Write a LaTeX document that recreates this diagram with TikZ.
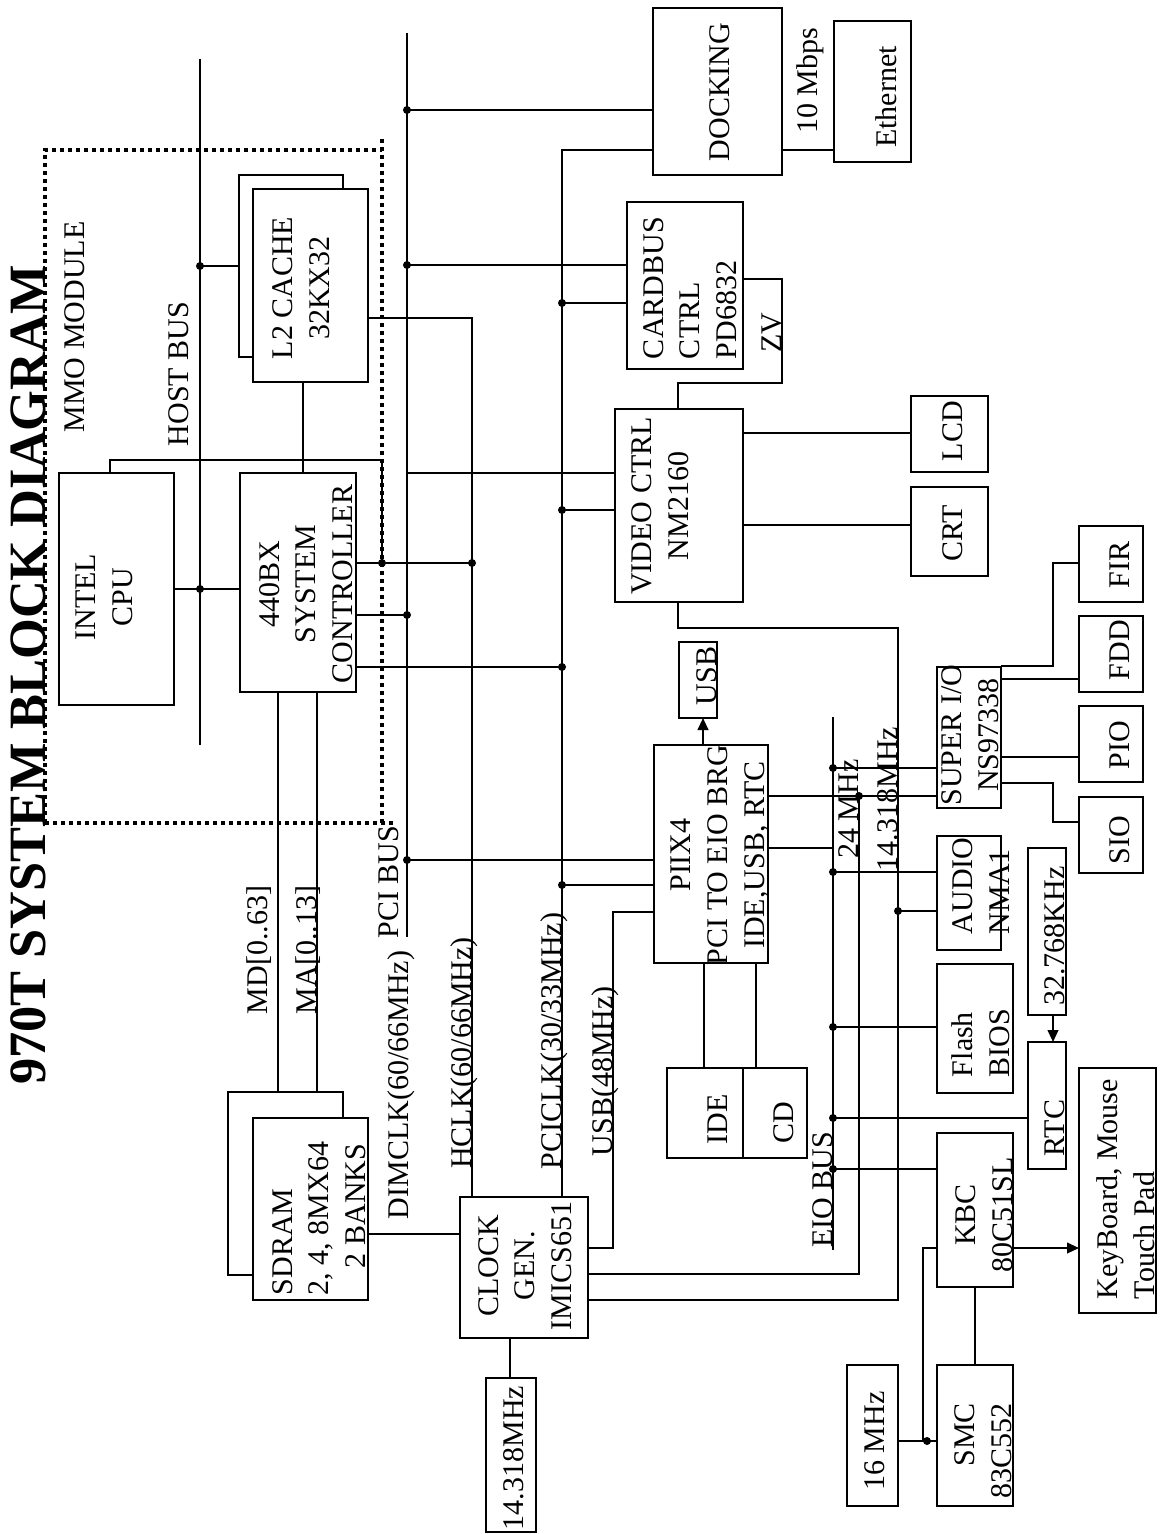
\documentclass[tikz,border=0pt]{standalone}
\usepackage{fontspec}
\setmainfont{Liberation Serif}
\usetikzlibrary{arrows.meta}
\newcommand\fsz{\fontsize{22.5pt}{27.5pt}\selectfont}
\newcommand\mkbox[6][]{\node[bx,#1, minimum width={(#5-#3)*0.75pt}, minimum height={(#6-#4)*0.75pt}] (#2) at ({(#3+#5)/2},{(#4+#6)/2}) {};}
\begin{document}
\begin{tikzpicture}[x=0.75pt,y=-0.75pt,
  line width=1.5pt,
  bx/.style={draw, line width=1.6pt, inner sep=0pt, outer sep=0pt},
  lab/.style={rotate=90, inner sep=0pt, font=\fsz},
  jn/.style={circle, fill, inner sep=0pt, minimum size=6pt},
  arr/.style={-{Triangle[length=9pt,width=8pt]}},
  mmo/.style={line width=3pt, dash pattern=on 3pt off 3pt}]
\useasboundingbox (0,0) rectangle (1163,1534);

% ---------- boxes ----------
\mkbox{cpu}{59}{473}{174}{705}
\mkbox{l2back}{239}{175}{343}{357}
\mkbox[fill=white]{l2}{253}{189}{368}{382}
\mkbox{ctrl}{240}{473}{356}{692}
\mkbox{sdback}{228}{1092}{343}{1275}
\mkbox[fill=white]{sdram}{253}{1118}{368}{1300}
\mkbox{clk}{460}{1197}{588}{1338}
\mkbox{osc}{486}{1378}{536}{1532}
\mkbox{dock}{653}{8}{782}{175}
\mkbox{eth}{834}{21}{911}{162}
\mkbox{cb}{627}{202}{743}{369}
\mkbox{vid}{615}{409}{743}{602}
\mkbox{lcd}{911}{396}{988}{472}
\mkbox{crt}{911}{487}{988}{576}
\mkbox{usb}{679}{642}{717}{718}
\mkbox{piix}{654}{745}{768}{963}
\mkbox{ide}{667}{1068}{743}{1158}
\mkbox{cd}{743}{1068}{807}{1158}
\mkbox{superio}{937}{667}{1001}{808}
\mkbox{fir}{1079}{526}{1143}{602}
\mkbox{fdd}{1079}{616}{1143}{692}
\mkbox{pio}{1079}{706}{1143}{782}
\mkbox{siob}{1079}{797}{1143}{873}
\mkbox{audio}{937}{836}{1001}{950}
\mkbox{bios}{937}{964}{1013}{1093}
\mkbox{xtal}{1028}{848}{1066}{1015}
\mkbox{rtc}{1028}{1042}{1066}{1169}
\mkbox{kbc}{937}{1133}{1013}{1287}
\mkbox{kbd}{1079}{1068}{1156}{1313}
\mkbox{smc}{937}{1365}{1013}{1506}
\mkbox{mhz}{847}{1365}{898}{1506}

% ---------- bus ends and junctions ----------
\coordinate (hbT) at (200,59);  \coordinate (hbB) at (200,745);
\coordinate (pciT) at (407,33); \coordinate (pciB) at (407,937);
\coordinate (eioT) at (833,717); \coordinate (eioB) at (833,1250);
\coordinate (j1) at (200,266);  \coordinate (j2) at (200,589);
\coordinate (j3) at (382,563);  \coordinate (j4) at (472,563);
\coordinate (j5) at (407,615);  \coordinate (j6) at (562,667);
\coordinate (j7) at (407,110);  \coordinate (j8) at (407,265);
\coordinate (j9) at (562,303);  \coordinate (j10) at (562,510);
\coordinate (j11) at (407,860); \coordinate (j12) at (562,885);
\coordinate (j13) at (859,796); \coordinate (j14) at (833,768);
\coordinate (j15) at (898,911); \coordinate (j16) at (833,872);
\coordinate (j17) at (833,1027); \coordinate (j18) at (833,1118);
\coordinate (j19) at (833,1169); \coordinate (j20) at (927,1441);

% ---------- MMO module border ----------
\draw[mmo] (45,823) -- (45,150) -- (382,150);
\draw[mmo] (382,139) -- (382,823);
\draw[mmo] (45,823) -- (393,823);

% ---------- buses ----------
\draw (hbT) -- (hbB);
\draw (pciT) -- (pciB);
\draw (eioT) -- (eioB);

% ---------- connectors ----------
\draw (l2back.west |- j1) -- (j1);
\draw (cpu.east |- j2) -- (ctrl.west |- j2);
\draw (110,0 |- cpu.north) -- (110,460) -| (j3);
\draw (ctrl.east |- j3) -- (j4);
\draw (303,0 |- l2.south) -- (303,0 |- ctrl.north);
\draw (l2.east |- 0,318) -| (472,0 |- clk.north);
\draw (ctrl.east |- j5) -- (j5);
\draw (ctrl.east |- j6) -- (j6);
\draw (278,0 |- ctrl.south) -- (278,0 |- sdback.north);
\draw (317,0 |- ctrl.south) -- (317,0 |- sdback.north);
\draw (sdram.east |- 0,1234) -- (clk.west |- 0,1234);
\draw (j7) -- (dock.west |- j7);
\draw (dock.west |- 0,150) -| (562,0 |- clk.north);
\draw (j8) -- (cb.west |- j8);
\draw (j9) -- (cb.west |- j9);
\draw (407,473) -- (vid.west |- 0,473);
\draw (j10) -- (vid.west |- j10);
\draw (j11) -- (piix.west |- j11);
\draw (j12) -- (piix.west |- j12);
\draw (piix.west |- 0,912) -| (613,1248) -- (clk.east |- 0,1248);
\draw[arr] (703,0 |- piix.north) -- (703,0 |- usb.south);
\draw (704,0 |- piix.south) -- (704,0 |- ide.north);
\draw (756,0 |- piix.south) -- (756,0 |- cd.north);
\draw (piix.east |- j13) -- (superio.west |- j13);
\draw (piix.east |- 0,848) -- (eioT |- 0,848);
\draw (j14) -- (superio.west |- j14);
\draw (j13) -- (859,1274) -- (clk.east |- 0,1274);
\draw (678,0 |- vid.south) |- (898,628) -- (898,1300) -- (clk.east |- 0,1300);
\draw (j15) -- (audio.west |- j15);
\draw (j16) -- (audio.west |- j16);
\draw (j17) -- (bios.west |- j17);
\draw (j18) -- (rtc.west |- j18);
\draw (j19) -- (kbc.west |- j19);
\draw[arr] (1053,0 |- xtal.south) -- (1053,0 |- rtc.north);
\draw[arr] (kbc.east |- 0,1248) -- (kbd.west |- 0,1248);
\draw (975,0 |- kbc.south) -- (975,0 |- smc.north);
\draw (mhz.east |- j20) -- (smc.west |- j20);
\draw (923,1441) |- (kbc.west |- 0,1248);
\draw (vid.east |- 0,433) -- (lcd.west |- 0,433);
\draw (vid.east |- 0,525) -- (crt.west |- 0,525);
\draw (cb.east |- 0,279) -| (782,383) -| (678,0 |- vid.north);
\draw (dock.east |- 0,150) -- (eth.west |- 0,150);
\draw (superio.east |- 0,666) -| (1053,563) -- (fir.west |- 0,563);
\draw (superio.east |- 0,679) -- (fdd.west |- 0,679);
\draw (superio.east |- 0,757) -- (pio.west |- 0,757);
\draw (superio.east |- 0,783) -| (1053,822) -- (siob.west |- 0,822);
\draw (510,0 |- clk.south) -- (510,0 |- osc.north);

% ---------- junction dots ----------
\foreach \p in {j1,j2,j3,j4,j5,j6,j7,j8,j9,j10,j11,j12,j13,j14,j15,j16,j17,j18,j19,j20}
  \node[jn] (d\p) at (\p) {};

% ---------- free labels ----------
\node[lab, anchor=base, font=\fontsize{39.3pt}{40pt}\selectfont\bfseries] (title) at (45,675) {970T SYSTEM BLOCK DIAGRAM};
\node[lab, anchor=base] (tMMO) at (84,327) {MMO MODULE};
\node[lab, anchor=base] (tHB) at (188,374) {HOST BUS};
\node[lab, anchor=base] (tPCI) at (398,882) {PCI BUS};
\node[lab, anchor=base] (tDIM) at (408,1085) {DIMCLK(60/66MHz)};
\node[lab, anchor=base] (tHCLK) at (471,1053) {HCLK(60/66MHz)};
\node[lab, anchor=base] (tPCICLK) at (561,1041) {PCICLK(30/33MHz)};
\node[lab, anchor=base] (tUSBCLK) at (612,1071) {USB(48MHz)};
\node[lab, anchor=base] (tMD) at (267,950) {MD[0..63]};
\node[lab, anchor=base] (tMA) at (316,950) {MA[0..13]};
\node[lab, anchor=base] (tZV) at (781,333) {ZV};
\node[lab, anchor=base] (t10) at (817,81) {10 Mbps};
\node[lab, anchor=base] (t24) at (858,809) {24 MHz};
\node[lab, anchor=base] (t14) at (897,799) {14.318MHz};
\node[lab, anchor=base] (tEIO) at (832,1190) {EIO BUS};

% ---------- box labels ----------
\node[lab, align=center] (tCPU) at (104.5,597) {INTEL\\CPU};
\node[lab, align=center] (tL2) at (301,288) {L2 CACHE\\32KX32};
\node[lab, align=center] (tCTRL) at (306,584) {440BX\\SYSTEM\\CONTROLLER};
\node[lab, align=left, anchor=west] (tSD) at (319,1296) {SDRAM\\2, 4, 8MX64\\\hspace*{0.9em}2 BANKS};
\node[lab, align=center] (tCLK) at (525,1266) {CLOCK\\GEN.\\IMICS651};
\node[lab] (tOSC) at (514,1458) {14.318MHz};
\node[lab] (tDOCK) at (720,92) {DOCKING};
\node[lab] (tETH) at (886,97) {Ethernet};
\node[lab, align=left, anchor=west] (tCB) at (690,360) {CARDBUS\\CTRL\\PD6832};
\node[lab, align=center] (tVID) at (660,506) {VIDEO CTRL\\NM2160};
\node[lab] (tLCD) at (953,431) {LCD};
\node[lab] (tCRT) at (953,533) {CRT};
\node[lab] (tUSB) at (707,676) {USB};
\node[lab, align=center] (tPIIX) at (720,855) {PIIX4\\PCI TO EIO BRG\\IDE,USB, RTC};
\node[lab] (tIDE) at (718,1119) {IDE};
\node[lab] (tCD) at (784,1123) {CD};
\node[lab, align=center] (tSIO) at (970,735) {SUPER I/O\\NS97338};
\node[lab] (tFIR) at (1120,565) {FIR};
\node[lab] (tFDD) at (1120,650) {FDD};
\node[lab] (tPIO) at (1120,745) {PIO};
\node[lab] (tSIOb) at (1120,840) {SIO};
\node[lab, align=left, anchor=west] (tAUD) at (981,935) {AUDIO\\NMA1};
\node[lab, align=left, anchor=west] (tBIOS) at (981,1078) {Flash\\BIOS};
\node[lab] (tXTAL) at (1055,936) {32.768KHz};
\node[lab] (tRTC) at (1055,1128) {RTC};
\node[lab, align=center] (tKBC) at (984,1215) {KBC\\80C51SL};
\node[lab, align=left, anchor=west] (tKBD) at (1126,1300) {KeyBoard, Mouse\\Touch Pad};
\node[lab, align=right, anchor=east] (tSMC) at (983,1402) {SMC\\83C552};
\node[lab] (tMHZ) at (875,1441) {16 MHz};
\end{tikzpicture}
\end{document}
